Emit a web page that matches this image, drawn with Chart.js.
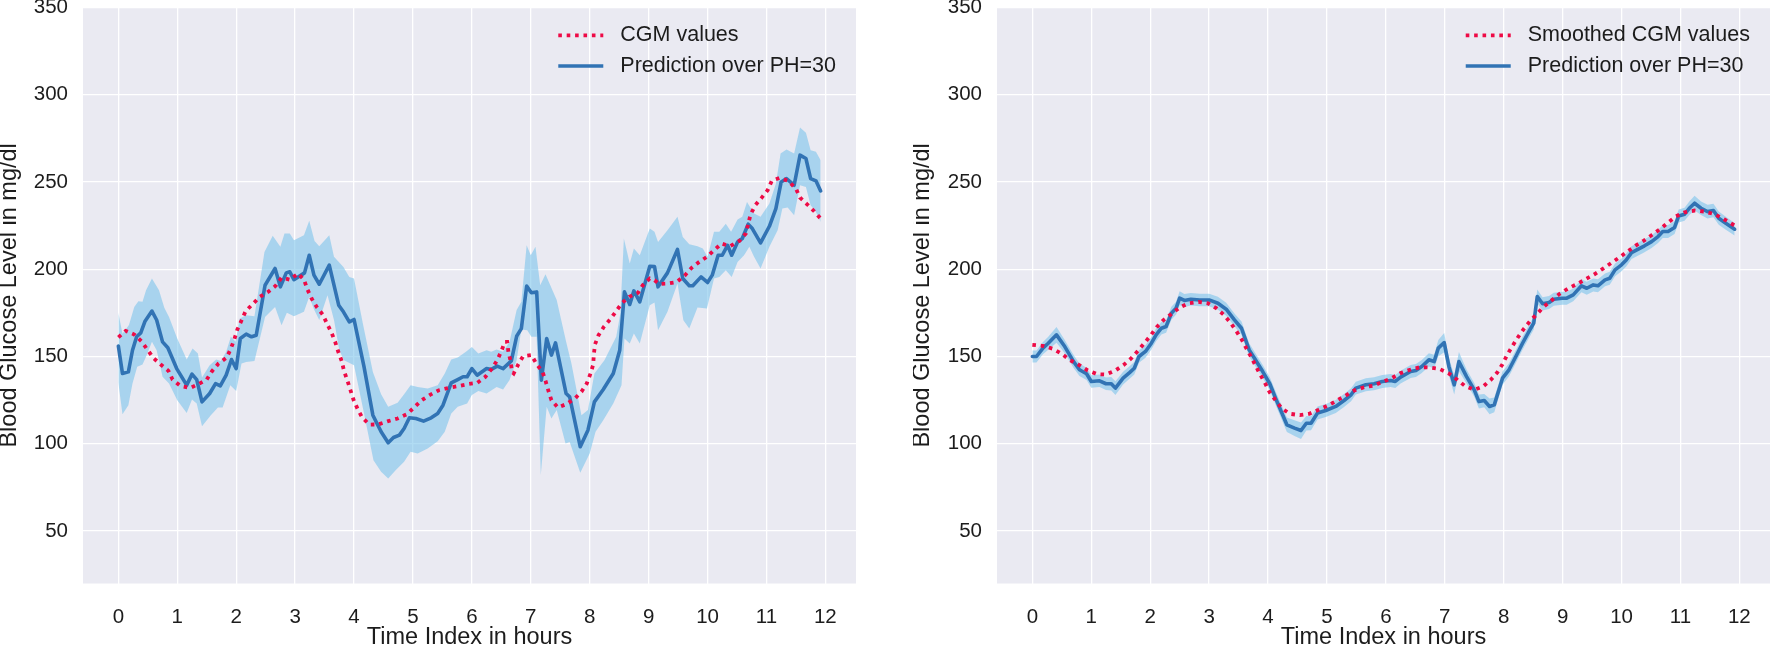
<!DOCTYPE html>
<html><head><meta charset="utf-8">
<script src="https://cdn.jsdelivr.net/npm/chart.js@4.4.1/dist/chart.umd.min.js"></script>
<style>
html,body{margin:0;padding:0;background:#fff;width:1770px;height:645px;overflow:hidden;}
canvas{position:absolute;top:0;}
</style></head><body>
<canvas id="c1" width="870" height="645" style="left:0px;width:870px;height:645px"></canvas>
<canvas id="c2" width="857" height="645" style="left:913px;width:857px;height:645px"></canvas>
<script>
// ---------- tick labels ----------
const xTickLabels = [0,1,2,3,4,5,6,7,8,9,10,11,12];
const yTickLabels = [50,100,150,200,250,300,350];

// ---------- left chart: CGM values ----------
const cgmHoursL = [0,0.125,0.27,0.4,0.5,0.6,0.72,0.85,0.92,1.05, 1.22,1.375,1.5,1.59,1.7,1.84,1.91,1.97,2.02,2.09, 2.16,2.28,2.4,2.54,2.67,2.77,2.91,3.05,3.15,3.21, 3.28,3.37,3.47,3.54,3.62,3.68,3.73,3.79,3.83,3.89, 3.94,3.99,4.06,4.14,4.26,4.41,4.58,4.74,4.9,5.02, 5.15,5.29,5.44,5.6,5.76,5.93,6.09,6.23,6.34,6.43, 6.5,6.56,6.6,6.62,6.66,6.68,6.71,6.79,6.87,7.01, 7.1,7.2,7.25,7.3,7.35,7.46,7.6,7.75,7.86,7.95, 8.01,8.06,8.07,8.09,8.15,8.24,8.35,8.45,8.55,8.67, 8.82,8.9,9.02,9.1,9.18,9.32,9.48,9.62,9.73,9.86, 9.99,10.11,10.24,10.38,10.54,10.65,10.73,10.81,10.92,11.02, 11.09,11.22,11.37,11.5,11.57,11.69,11.81,11.92];
const cgmValuesL = [161,164.7,162.6,158.4,153.6,149,145.4,141.8,136.8,133.2, 132,134.5,136.8,141.6,146,149.4,154.6,160,165.5,170.6, 176,180,184.2,187,190.5,195.2,194,197.5,194,188.4, 183.2,178.2,174,168.9,163.5,158.4,153,147.5,141.8,136, 130.7,125.4,120,115,111,111.1,113,114.5,117,120.8, 125,128,130.7,132,133,134.2,134.9,138.4,143.1,147.9, 153,158.4,158.4,152.7,147,141.2,140.3,145.6,150.2,150.8, 145.6,141.2,136.1,130.3,125,120.8,122.7,126,129.8,134.5, 139.9,145.4,151.1,156.9,162.2,167,171.4,176,180.7,184.2, 186.5,190.8,194.7,193.7,191.6,191.8,192.7,196.6,200.8,204.2, 207.1,210.9,214.7,213.2,216.2,220.4,231.3,236.6,241,245.2, 250.6,252.3,250.6,246.2,241,237.2,233.2,229];

// ---------- left chart: prediction ----------
const predHoursL = [0,0.07,0.17,0.24,0.31,0.38,0.45,0.57,0.65,0.75, 0.84,0.99,1.16,1.25,1.33,1.42,1.55,1.65,1.73,1.83, 1.92,2.0,2.07,2.17,2.26,2.34,2.49,2.66,2.75,2.85, 2.91,2.98,3.16,3.24,3.32,3.41,3.58,3.68,3.74,3.82, 3.92,4.0,4.17,4.32,4.46,4.58,4.67,4.77,4.85,4.94, 5.05,5.18,5.31,5.42,5.51,5.65,5.76,5.85,5.92,6.0, 6.09,6.25,6.33,6.43,6.53,6.67,6.76,6.84,6.93,7.01, 7.1,7.18,7.27,7.35,7.42,7.6,7.66,7.84,7.97,8.08, 8.23,8.4,8.51,8.59,8.68,8.75,8.85,9.02,9.1,9.16, 9.32,9.49,9.58,9.69,9.75,9.89,10.0,10.08,10.18,10.25, 10.34,10.41,10.51,10.59,10.69,10.76,10.9,11.05,11.16,11.25, 11.34,11.47,11.57,11.67,11.75,11.84,11.92];
const predValuesL = [156,140.3,141.2,153.6,161.3,163.5,170,176,170.9,158.4, 155,143.1,133.6,139.9,136.8,124,128.8,134.5,133.2,139.3, 148.3,143.1,160.3,162.8,161.3,162.2,190.8,200.4,189.9,197.9, 198.5,194,197.9,208,196.6,191.4,202.3,188,179.4,175.6, 169.8,171.2,144.1,116.4,106.9,100.6,103.6,105,108.8,114.9, 114.5,113,114.9,117.4,122.1,134.9,136.8,138.4,138.4,143.1, 139.3,143.1,142.6,144.5,143.1,147.5,161.6,166,190.3,186.5, 187,136.5,160.3,150.8,157.8,128.8,126.9,98.3,107.8,124, 131.1,140.3,153.6,187,179.8,187.6,181.3,201.7,201.5,189.9, 197.9,211.3,194.7,190.5,190.5,195.6,192.4,196.6,208,208, 213.7,208,215.6,217.6,225.8,223.3,215.1,224.6,234.7,250, 251.9,248.1,265.3,263.4,251.9,250.6,244.8];

// ---------- left chart: uncertainty band ----------
const upperHoursL = [0,0.07,0.18,0.27,0.34,0.41,0.47,0.57,0.69,0.78, 0.86,1.0,1.16,1.26,1.35,1.42,1.55,1.66,1.74,1.83, 1.91,1.99,2.06,2.17,2.31,2.48,2.62,2.75,2.82,2.91, 2.98,3.15,3.24,3.33,3.41,3.58,3.66,3.82,3.92,4.0, 4.15,4.32,4.46,4.58,4.74,4.85,4.96,5.08,5.25,5.42, 5.54,5.65,5.76,5.9,6.0,6.11,6.25,6.33,6.42,6.53, 6.64,6.76,6.84,6.93,7.0,7.08,7.16,7.25,7.44,7.6, 7.69,7.86,7.97,8.08,8.25,8.45,8.52,8.58,8.68,8.75, 8.85,9.02,9.1,9.16,9.32,9.49,9.58,9.69,9.83,9.92, 10.0,10.11,10.2,10.31,10.4,10.51,10.59,10.67,10.79,10.9, 11.05,11.16,11.24,11.34,11.47,11.57,11.67,11.75,11.84,11.92];
const upperValuesL = [175,163,168,178.4,181.7,181.3,188,194.7,188,177.9, 172.7,160.3,148.3,154.6,151.7,138,145,148.3,147.5,152.7, 161.3,158.4,171.8,173.7,173.1,209.9,219.1,212.8,220.4,220.4, 216.6,219.5,227.7,216.2,213.2,219.5,207.1,201.3,195.6,194.7, 168.9,141.2,128.4,121.2,123.5,128.4,133.6,132.6,131.7,133.6, 140.3,148.3,149.4,152.7,155.5,151.7,153.6,152.7,154,152.7, 158.4,176.6,181.3,213.7,208,212.8,190.8,197.1,182.3,158.4, 146,116.4,119.3,140.3,147.9,161.3,174.6,217.6,203.2,211.8, 208,223.3,221.5,215.6,222.3,230,218.5,214.3,213.2,211.8, 207.1,221.4,221.4,226.1,221.4,228.4,230,238.5,231.9,230, 237.6,249,266.2,268.5,266.2,281.1,278.1,268.1,267.2,262.4];
const lowerHoursL = [0,0.07,0.17,0.24,0.32,0.41,0.47,0.57,0.65,0.75, 0.86,1.0,1.16,1.25,1.33,1.42,1.57,1.69,1.77,1.9, 2.0,2.09,2.17,2.31,2.49,2.66,2.77,2.86,2.98,3.15, 3.24,3.32,3.41,3.55,3.66,3.75,3.83,4.0,4.17,4.33, 4.46,4.58,4.71,4.85,4.96,5.08,5.25,5.42,5.54,5.65, 5.76,5.92,6.0,6.11,6.25,6.42,6.53,6.64,6.76,6.84, 6.94,7.01,7.1,7.17,7.27,7.35,7.44,7.59,7.66,7.84, 8.0,8.1,8.23,8.4,8.54,8.59,8.68,8.75,8.85,9.02, 9.1,9.16,9.32,9.49,9.59,9.69,9.83,9.99,10.11,10.2, 10.31,10.41,10.51,10.62,10.71,10.79,10.9,11.05,11.19,11.27, 11.36,11.47,11.57,11.67,11.75,11.84,11.92];
const lowerValuesL = [135,117,122.1,134.5,144.1,145.4,149.8,158.4,153.6,138.4, 134.5,125,117.7,125.4,123.1,110.1,116.4,120.8,120.8,133.6, 130.3,146,146.9,147.5,172.7,178.4,167.9,175,173,175.6, 184.2,177,170.9,185.1,170.9,153.6,147.9,145,117.4,90.6, 84,80.2,85,89.7,95.4,94.5,97.3,101.5,106.9,117.4, 121.2,123.1,127.9,130.3,128.8,132.6,131.1,136.5,147.9,165.5, 165.1,161.3,161.3,82.1,121.2,114.5,119.3,100.2,101.1,83.4, 94.5,106.9,113.5,123.1,133.6,160.3,157.4,163.2,157.4,179.4, 181,165.1,175.6,191.8,170.8,166,178,177.5,194.7,195.6, 199.4,195.6,204.2,208,212.8,207.1,200.4,212.8,222.3,234.7, 235.3,230.9,248.1,247.1,236.6,232.8,227.1];

// ---------- right chart: smoothed CGM ----------
const cgmHoursR = [0,0.2,0.35,0.5,0.63,0.79,0.94,1.1,1.25,1.41, 1.55,1.68,1.79,1.9,2.01,2.11,2.23,2.36,2.5,2.65, 2.82,2.98,3.12,3.25,3.36,3.46,3.55,3.63,3.71,3.79, 3.87,3.95,4.03,4.13,4.23,4.37,4.54,4.7,4.86,5.01, 5.16,5.31,5.46,5.63,5.8,5.96,6.1,6.25,6.41,6.58, 6.75,6.91,7.06,7.2,7.34,7.5,7.65,7.78,7.89,7.98, 8.06,8.15,8.24,8.33,8.44,8.56,8.67,8.81,8.94,9.1, 9.24,9.39,9.54,9.68,9.82,9.96,10.1,10.24,10.38,10.52, 10.66,10.79,10.92,11.07,11.24,11.41,11.58,11.74,11.92];
const cgmValuesR = [156.7,156,154.4,151.5,148.1,145.2,142,139.9,139.7,142, 145.2,149,153.2,157.6,162.2,166.8,171,174.4,178.1,180.5, 181.3,180.5,177.7,173.9,169.5,164.7,159.9,154.8,150,144.7, 139.5,134.7,129.4,124.8,120.4,117.2,116.4,117.2,119.5,121.8, 124.6,127.5,130.5,132.4,133.4,135.7,137.6,140.5,142.4,143.9, 143.7,142.9,140.5,137,133.2,130.9,132.8,136.6,140.8,145.6, 151,156.1,160.9,165.3,170,174.2,178.2,182.1,185.7,189.1, 191.4,194.3,197.1,200.2,203.4,206.7,210.1,213.5,216.4,219.7, 223.1,226.7,230.2,232.6,233.6,233,231.5,228.6,225];

// ---------- right chart: prediction and band ----------
const predHoursR = [0,0.07,0.18,0.27,0.41,0.55,0.7,0.8,0.92,1.0, 1.14,1.25,1.34,1.41,1.54,1.65,1.73,1.81,1.92,2.02, 2.1,2.19,2.27,2.36,2.44,2.5,2.58,2.69,2.84,3.0, 3.15,3.29,3.43,3.55,3.68,3.77,3.91,4.03,4.14,4.32, 4.45,4.56,4.65,4.73,4.84,4.98,5.15,5.29,5.41,5.49, 5.66,5.8,5.94,6.08,6.16,6.25,6.42,6.51,6.61,6.73, 6.82,6.89,6.99,7.07,7.16,7.24,7.37,7.5,7.58,7.67, 7.76,7.84,7.98,8.09,8.2,8.32,8.46,8.51,8.57,8.66, 8.77,8.85,8.99,9.07,9.18,9.32,9.41,9.52,9.6,9.72, 9.8,9.89,10.0,10.08,10.17,10.26,10.39,10.51,10.62,10.7, 10.79,10.9,10.97,11.07,11.15,11.24,11.35,11.46,11.56,11.65, 11.77,11.92];
const predValuesR = [150,150,154.8,157.6,162.4,155.7,147.1,142.4,140.1,135.7, 136.1,134.4,134.4,131.9,137.6,140.8,143.3,150,152.9,157.6, 162.4,166.2,167.2,174.8,177.7,183.4,182.1,182.8,182.4,182.4, 180.5,177.1,171,166.2,153.8,149,141.4,134.4,125.2,110.9, 109,107.6,111.8,111.8,117.6,119.1,121.4,124.8,128.1,131.9, 133.8,134.4,135.7,136.3,135.7,138.2,141.4,142,144.3,148.1, 147.1,154.8,158,144.3,133.8,147.1,138.5,130.9,124.2,124.8, 121.4,122.3,137.6,142.4,149.6,157.6,166.2,169.1,184.4,180.2, 180.9,182.8,183.4,183.4,185.3,190.5,189.1,191,190.5,193.9, 194.8,199.6,202.5,205.3,209.5,211.1,213.4,215.8,218.7,221.6, 221.6,223.9,230.5,231.5,234.9,237.8,234.9,233,233.6,229.2, 226.3,222.9];
const upperValuesR = [153.5,153.5,158.3,161.3,166.9,159.5,150.8,146,143.6,139.3, 139.7,138,138.2,135.9,141.3,144.4,146.9,153.6,156.5,161.2, 166,169.8,170.8,178.5,181.4,187.4,185.8,186.4,186,186, 184.2,180.8,174.7,170,157.6,152.7,145.1,138.1,129.1,115, 113.5,112.2,116,115.8,121.3,122.8,125.1,128.5,131.8,135.6, 137.5,138.1,139.4,140,139.4,141.9,145.1,145.7,148,151.9, 151,159.5,163.5,149.3,139.3,152.6,142.5,134.8,128.2,128.6, 125.9,126.5,141.4,146.1,153.3,161.3,169.9,172.8,188.4,184, 184.6,186.5,187.1,187.1,189,194.2,192.8,194.7,194.2,197.6, 198.5,203.3,206.2,209,213.2,214.8,217.1,219.5,222.4,225.3, 225.3,227.6,234.2,235.2,238.8,242,238.8,236.9,237.5,233, 230,226.5];
const lowerValuesR = [146.5,146.5,151.3,153.9,157.9,151.9,143.4,138.8,136.6,132.1, 132.5,130.8,130.6,127.9,133.9,137.2,139.7,146.4,149.3,154, 158.8,162.6,163.6,171.1,174,179.4,178.4,179.2,178.8,178.8, 176.8,173.4,167.3,162.4,150,145.3,137.7,130.7,121.3,106.8, 104.5,102.8,107.6,107.8,113.9,115.4,117.7,121.1,124.4,128.2, 130.1,130.7,132,132.6,132,134.5,137.7,138.3,140.6,144.3, 143.2,150.1,152.5,139.3,128.3,141.6,134.5,127,120.2,121, 116.9,118.1,133.8,138.7,145.9,153.9,162.5,165.4,180.4,176.4, 177.2,179.1,179.7,179.7,181.6,186.8,185.4,187.3,186.8,190.2, 191.1,195.9,198.8,201.6,205.8,207.4,209.7,212.1,215,217.9, 217.9,220.2,226.8,227.8,231,233.6,231,229.1,229.7,225.4, 222.6,219.3];

// ---------- styling ----------
const FONT = "'Liberation Sans', Arial, Helvetica, sans-serif";
const TEXT = '#1c1c1c';
const RED = '#EE0A46';
const BLUE = '#3173B4';
const BAND = 'rgba(120,195,235,0.58)';
const PLOT_BG = '#EAEAF2';

function pts(xs, ys) { return xs.map((x, i) => ({x: x, y: ys[i]})); }

const plotBg = {
  id: 'plotBg',
  beforeDraw(chart) {
    const {ctx, chartArea: a} = chart;
    ctx.save();
    ctx.fillStyle = PLOT_BG;
    ctx.fillRect(a.left, a.top, a.right - a.left, a.bottom - a.top);
    ctx.restore();
  }
};

const innerLegend = {
  id: 'innerLegend',
  afterDatasetsDraw(chart, args, opts) {
    const {ctx, chartArea: a} = chart;
    const list = opts.order.map(i => chart.data.datasets[i]);
    ctx.save();
    ctx.font = opts.size + 'px ' + FONT;
    const maxW = Math.max(...list.map(d => ctx.measureText(d.label).width));
    const textX = a.right - opts.rightGap - maxW;
    const x1 = textX - opts.gap, x0 = x1 - opts.lineLen;
    list.forEach((d, k) => {
      const y = a.top + opts.firstRow + k * opts.rowGap;
      ctx.beginPath();
      ctx.strokeStyle = d.borderColor;
      ctx.lineWidth = d.borderWidth;
      ctx.lineCap = 'butt';
      ctx.setLineDash(d.borderDash || []);
      ctx.moveTo(x0, y); ctx.lineTo(x1, y);
      ctx.stroke();
      ctx.setLineDash([]);
      ctx.fillStyle = TEXT;
      ctx.textAlign = 'left';
      ctx.textBaseline = 'middle';
      ctx.fillText(d.label, textX, y);
    });
    ctx.restore();
  }
};

function makeChart(id, s) {
  return new Chart(document.getElementById(id), {
    type: 'line',
    data: {
      datasets: [
        {label: s.cgmLabel, data: pts(s.cgmH, s.cgmV), borderColor: RED, borderWidth: 3.8,
         borderDash: [3.6, 4.8], borderCapStyle: 'butt', pointRadius: 0, fill: false, order: 0},
        {label: 'Prediction over PH=30', data: pts(s.predH, s.predV), borderColor: BLUE, borderWidth: 3.6,
         borderJoinStyle: 'round', borderCapStyle: 'round', pointRadius: 0, fill: false, order: 1},
        {label: 'upper', data: pts(s.upH, s.upV), borderColor: 'rgba(0,0,0,0)', borderWidth: 0,
         pointRadius: 0, fill: false, order: 2},
        {label: 'lower', data: pts(s.loH, s.loV), borderColor: 'rgba(0,0,0,0)', borderWidth: 0,
         backgroundColor: BAND, pointRadius: 0, fill: '-1', order: 3}
      ]
    },
    options: {
      responsive: false, animation: false, devicePixelRatio: 1,
      layout: {padding: {top: 7.3, right: s.padRight, bottom: 0, left: 0}},
      elements: {line: {tension: 0}},
      plugins: {
        legend: {display: false},
        tooltip: {enabled: false},
        filler: {drawTime: 'beforeDatasetsDraw'},
        innerLegend: {order: [0, 1], size: 21.5, rightGap: 20, gap: 17, lineLen: 45, firstRow: 28, rowGap: 30.7}
      },
      scales: {
        x: {
          type: 'linear', min: -0.6, max: 12.52,
          afterBuildTicks: sc => { sc.ticks = xTickLabels.map(v => ({value: v})); },
          afterFit: sc => { sc.height = 61.5; sc.paddingLeft = 0; sc.paddingRight = 0; },
          grid: {color: '#ffffff', lineWidth: 1.3, drawTicks: false},
          border: {display: false},
          ticks: {padding: 22, color: TEXT, font: {family: FONT, size: 20.5}, callback: v => String(v), maxRotation: 0, autoSkip: false},
          title: {display: true, text: 'Time Index in hours', color: TEXT, padding: 0,
                  font: {family: FONT, size: 23.5, lineHeight: 0.6}}
        },
        y: {
          type: 'linear', min: 20, max: 350,
          afterBuildTicks: sc => { sc.ticks = yTickLabels.map(v => ({value: v})); },
          afterFit: sc => { sc.width = s.yWidth; sc.paddingTop = 0; sc.paddingBottom = 0; },
          grid: {color: '#ffffff', lineWidth: 1.3, drawTicks: false},
          border: {display: false},
          ticks: {padding: 15, color: TEXT, font: {family: FONT, size: 20.5}, callback: v => String(v), autoSkip: false},
          title: {display: true, text: 'Blood Glucose Level in mg/dl', color: TEXT, padding: 0,
                  font: {family: FONT, size: 23.5, lineHeight: 0.85}}
        }
      }
    },
    plugins: [plotBg, innerLegend]
  });
}

makeChart('c1', {
  cgmLabel: 'CGM values', cgmH: cgmHoursL, cgmV: cgmValuesL,
  predH: predHoursL, predV: predValuesL,
  upH: upperHoursL, upV: upperValuesL, loH: lowerHoursL, loV: lowerValuesL,
  padRight: 14, yWidth: 83
});
makeChart('c2', {
  cgmLabel: 'Smoothed CGM values', cgmH: cgmHoursR, cgmV: cgmValuesR,
  predH: predHoursR, predV: predValuesR,
  upH: predHoursR, upV: upperValuesR, loH: predHoursR, loV: lowerValuesR,
  padRight: 0, yWidth: 84
});
</script>
</body></html>
